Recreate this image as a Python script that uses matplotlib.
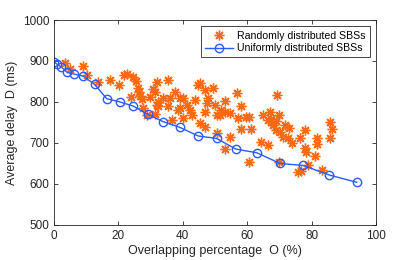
import matplotlib
matplotlib.use('Agg')
import matplotlib.pyplot as plt

plt.rcParams['font.family'] = ['Liberation Sans', 'DejaVu Sans']

# uniformly distributed SBSs
uni_x = [0, 0.8, 2.2, 4.1, 6.3, 9.1, 12.6, 16.4, 20.5, 24.6, 29.1, 33.9, 39.1,
         44.8, 50.5, 56.5, 63.0, 70.2, 77.4, 85.4, 94.0]
uni_y = [898, 893, 886, 872, 868, 863, 843, 808, 800, 790, 770, 752, 738,
         717, 711, 685, 676, 650, 645, 622, 604]

# randomly distributed SBSs
rnd_x = [3.4, 5.0, 9.0, 10.2, 13.8, 17.4, 20.3, 21.6, 22.7, 24.7, 25.6, 26.2,
         26.4, 26.7, 23.9, 27.3, 29.8, 30.7, 32.0, 35.4, 31.4, 32.4, 33.9, 36.0,
         37.6, 32.4, 35.5, 39.1, 40.2, 39.1, 41.2, 42.2, 42.8, 40.2, 36.6, 43.8,
         44.8, 49.3, 47.9, 47.4, 50.0, 46.9, 50.5, 45.3, 46.9, 27.7, 31.4, 50.5,
         28.8, 45.3, 46.9, 56.7, 69.3, 53.0, 58.2, 52.0, 53.0, 54.6, 57.1, 59.7,
         60.5, 65.0, 67.0, 69.9, 66.5, 67.5, 68.0, 69.0, 70.1, 71.1, 71.6, 58.0,
         61.3, 54.6, 53.0, 64.4, 66.6, 60.7, 70.0, 73.0, 77.9, 85.7, 86.4, 72.6,
         73.8, 76.4, 81.6, 81.8, 85.7, 78.1, 78.4, 81.1, 79.0, 75.8, 76.7, 83.2,
         51.6, 67.3, 68.9, 38.6, 31.9]
rnd_y = [895, 881, 887, 866, 848, 854, 842, 866, 868, 861, 850, 833,
         824, 815, 812, 807, 811, 832, 848, 854, 825, 801, 809, 809,
         825, 789, 789, 809, 809, 785, 793, 781, 768, 760, 756, 805,
         842, 833, 809, 797, 793, 776, 768, 748, 740, 785, 770, 724,
         768, 846, 829, 823, 816, 803, 790, 781, 776, 774, 761, 763,
         763, 768, 776, 768, 756, 752, 744, 732, 727, 715, 744, 735,
         735, 714, 685, 703, 695, 654, 654, 737, 732, 752, 733, 713,
         699, 711, 711, 698, 711, 688, 679, 668, 646, 629, 632, 635,
         768, 758, 754, 781, 793]

fig = plt.figure(figsize=(4.15, 2.6), dpi=100)
ax = fig.add_axes([0.130, 0.135, 0.776, 0.788])

# matlab-style asterisk: 8 spokes
ax.plot(rnd_x, rnd_y, linestyle='none', marker=(8, 2, 0), color='#FF6A10',
        markersize=7, markeredgewidth=1.0, label='Randomly distributed SBSs')
ax.plot(uni_x, uni_y, '-o', color='#2A5BFF', linewidth=1.0, markersize=6,
        markerfacecolor='none', markeredgewidth=1.0,
        label='Uniformly distributed SBSs')

ax.set_xlim(0, 100)
ax.set_ylim(500, 1000)
ax.set_xticks([0, 20, 40, 60, 80, 100])
ax.set_yticks([500, 600, 700, 800, 900, 1000])
ax.tick_params(direction='in', length=3, width=0.6, labelsize=8.5,
               top=True, right=True, colors='#262626')
for s in ax.spines.values():
    s.set_color('#262626')
    s.set_linewidth(0.6)

ax.set_xlabel('Overlapping percentage  O (%)', fontsize=9, color='#262626', labelpad=2)
ax.set_ylabel('Average delay  D (ms)', fontsize=9, color='#262626', labelpad=3)

leg = ax.legend(loc='upper right', fontsize=7.6, fancybox=False, framealpha=1,
                edgecolor='#262626', handlelength=2.6, borderpad=0.4,
                labelspacing=0.25, handletextpad=0.4, borderaxespad=0.6)
leg.get_frame().set_linewidth(0.6)

fig.savefig('out.png', dpi=100)
